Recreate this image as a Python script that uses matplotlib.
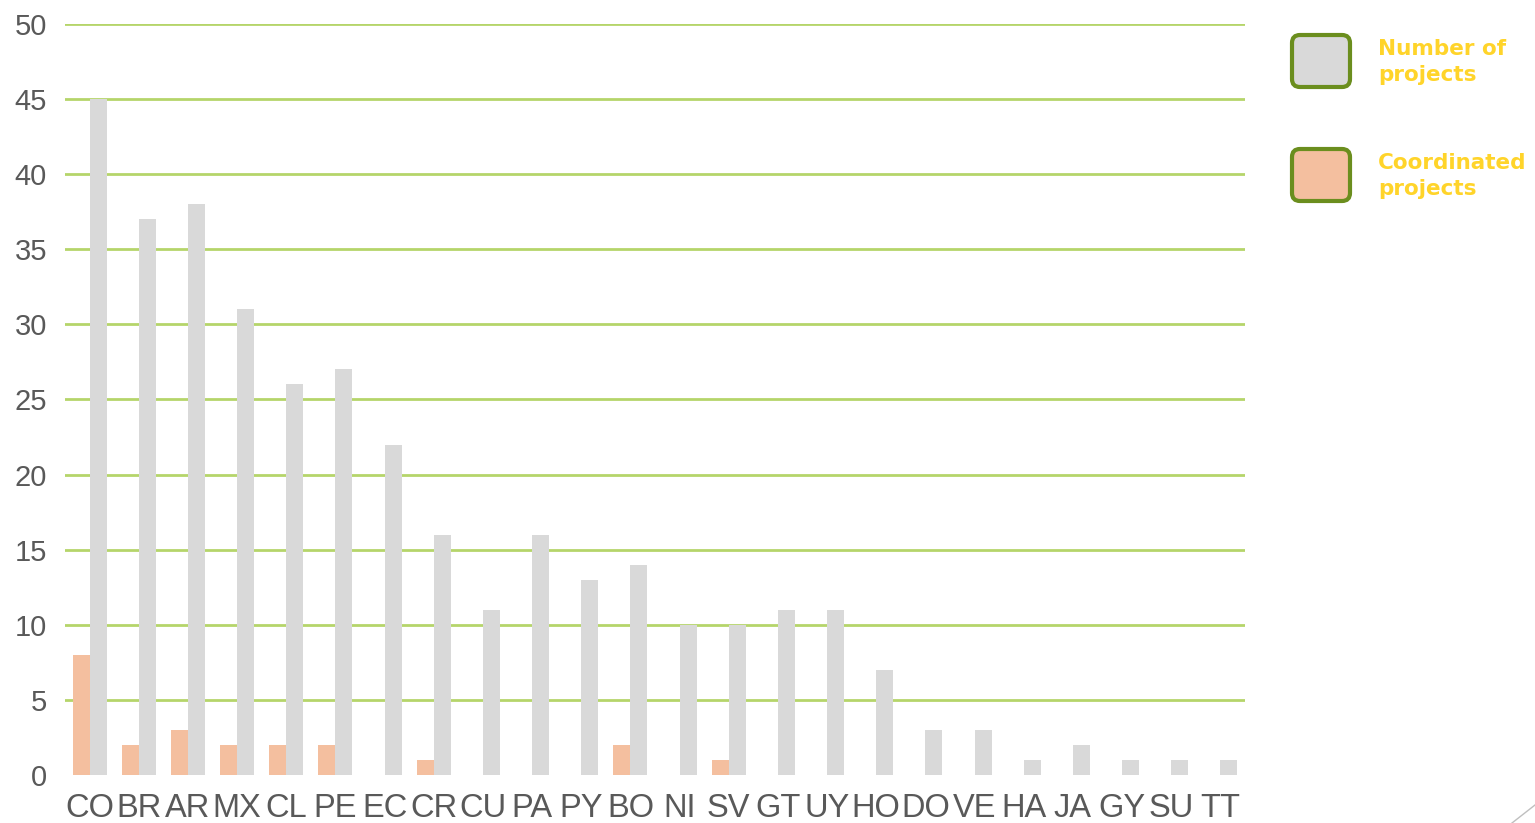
import matplotlib
matplotlib.use("Agg")
import matplotlib.pyplot as plt
from matplotlib.patches import FancyBboxPatch
from matplotlib.lines import Line2D
import numpy as np

countries = ["CO", "BR", "AR", "MX", "CL", "PE", "EC", "CR", "CU", "PA", "PY", "BO",
             "NI", "SV", "GT", "UY", "HO", "DO", "VE", "HA", "JA", "GY", "SU", "TT"]
num_projects = [45, 37, 38, 31, 26, 27, 22, 16, 11, 16, 13, 14,
                10, 10, 11, 11, 7, 3, 3, 1, 2, 1, 1, 1]
coord_projects = [8, 2, 3, 2, 2, 2, 0, 1, 0, 0, 0, 2,
                  0, 1, 0, 0, 0, 0, 0, 0, 0, 0, 0, 0]
yticks = [0, 5, 10, 15, 20, 25, 30, 35, 40, 45, 50]
legend_labels = ["Number of\nprojects", "Coordinated\nprojects"]

W, H = 1535, 823
fig = plt.figure(figsize=(W / 100, H / 100), dpi=100)
ax = fig.add_axes([65 / W, 1 - 775 / H, (1245 - 65) / W, (775 - 24) / H])

x = np.arange(len(countries))
bw = 0.345
gray = "#d9d9d9"
orange = "#f4bf9f"
green = "#b5d56a"

for yv in yticks[1:]:
    ax.axhline(yv, color=green, lw=2, zorder=0)

ax.bar(x - bw / 2, coord_projects, width=bw, color=orange, zorder=2)
ax.bar(x + bw / 2, num_projects, width=bw, color=gray, zorder=2)

ax.set_xlim(-0.5, len(countries) - 0.5)
ax.set_ylim(0, 50)
ax.set_yticks(yticks)
ax.set_yticklabels([str(v) for v in yticks], fontsize=21, color="#595959",
                   family="Liberation Sans")
ax.set_xticks(x)
ax.set_xticklabels(countries, fontsize=23.5, color="#595959", family="Liberation Sans")
ax.tick_params(axis="both", length=0)
ax.tick_params(axis="y", pad=13)
ax.tick_params(axis="x", pad=13)
for s in ax.spines.values():
    s.set_visible(False)

# legend in pixel coordinates
lax = fig.add_axes([0, 0, 1, 1], zorder=5)
lax.set_xlim(0, W)
lax.set_ylim(H, 0)
lax.axis("off")
for (y0, col, lab) in [(35, gray, legend_labels[0]), (149, orange, legend_labels[1])]:
    box = FancyBboxPatch((1292, y0), 58, 52, boxstyle="round,pad=0,rounding_size=8",
                         facecolor=col, edgecolor="#6b8e1e", lw=3)
    lax.add_patch(box)
    lax.text(1378, y0 + 27, lab, ha="left", va="center", fontsize=15.5,
             fontweight="bold", color="#ffd42a", family="DejaVu Sans", linespacing=1.35)

lax.add_line(Line2D([1512, 1535], [823, 805], color="#bfbfbf", lw=1))

fig.savefig("out.png", dpi=100)
